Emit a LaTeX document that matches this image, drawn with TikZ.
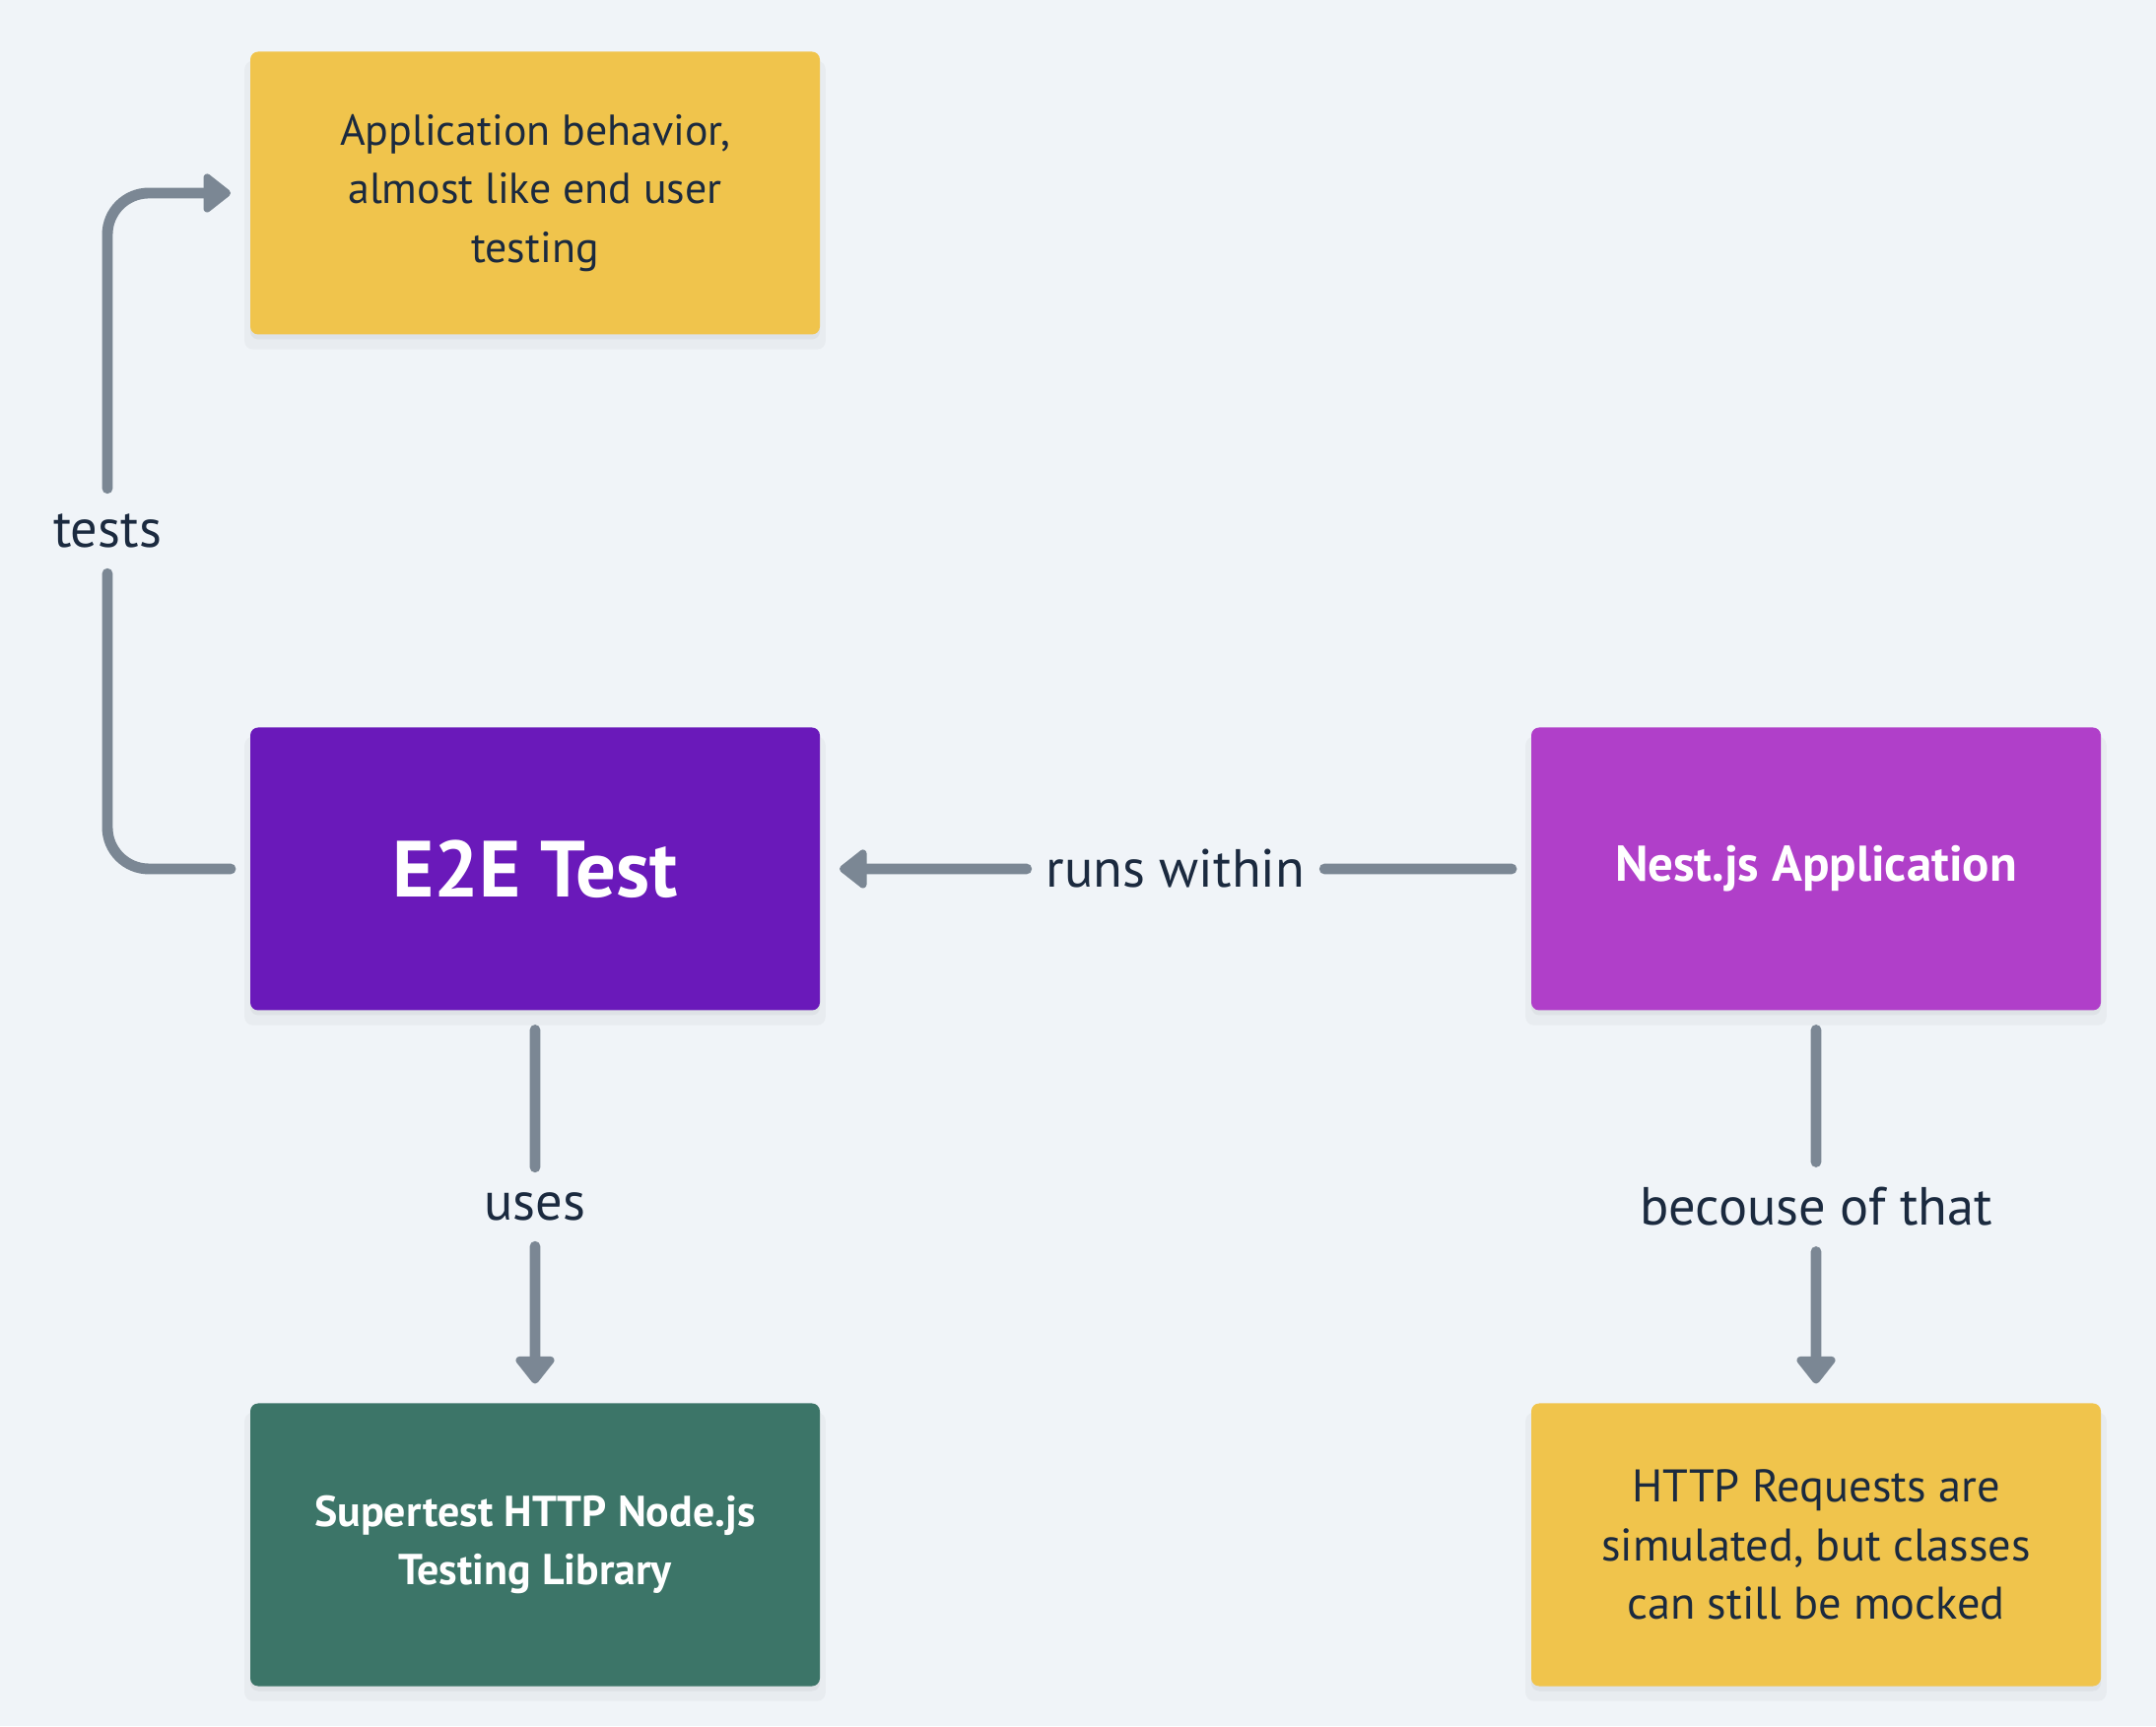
\documentclass[tikz,border=0pt]{standalone}
\usepackage{fontspec}
\setmainfont{PT Sans}
\usetikzlibrary{arrows.meta,%
                positioning,%
                calc,%
                shadows}

\definecolor{paper}{HTML}{F0F4F8}
\definecolor{ochre}{HTML}{F0C44C}
\definecolor{violet}{HTML}{6A19BA}
\definecolor{orchid}{HTML}{B03FC9}
\definecolor{pine}{HTML}{3C7568}
\definecolor{slate}{HTML}{7B8794}
\definecolor{ink}{HTML}{1B2A3F}

\begin{document}
\begin{tikzpicture}
  \tikzstyle{every node} = [inner sep = 0pt,
			    outer sep = 0pt]
\tikzset{box/.style={minimum width = 5.78cm,
                     minimum height = 2.87cm,
                     rounded corners = 0.08cm,
                     align = center,
                     drop shadow = {shadow xshift = 0pt, shadow yshift = -0.12cm,
                                    shadow scale = 1.02, opacity = 0.03, fill = black},
                     drop shadow = {shadow xshift = 0pt, shadow yshift = -0.05cm,
                                    opacity = 0.04, fill = black}},
         note/.style={box, fill = ochre, text = ink,
                      font = \fontsize{12.5}{17}\selectfont},
         tag/.style={text = ink, inner ysep = 0.06cm,
                     font = \fontsize{15.5}{17}\selectfont},
         link/.style={draw = slate, line width = 3.1pt, line cap = round,
                      rounded corners = 0.42cm,
                      shorten < = 0.2cm, shorten > = 0.2cm},
         tip/.style={-{Triangle[width = 0.45cm, length = 0.3cm, round]}}}
\useasboundingbox[fill = paper] (0,0) rectangle (21.88,17.52);

% boxes
\node[box, fill = violet, text = white,
      font = \fontsize{23}{26}\bfseries] (e2e) at (5.43,8.70) {E2E Test};
\node[note, above = 3.99cm of e2e] (behavior) {Application behavior,\\almost like end user\\testing};
\node[box, fill = orchid, text = white, right = 7.22cm of e2e,
      font = \fontsize{14.5}{17}\bfseries] (nest) {Nest.js Application};
\node[box, fill = pine, text = white, below = 3.99cm of e2e,
      font = \fontsize{12.5}{17}\bfseries] (supertest) {Supertest HTTP Node.js\\Testing Library};
\node[note, below = 3.99cm of nest,
      font = \fontsize{13.2}{17}\selectfont] (mocked) {HTTP Requests are\\simulated, but classes\\can still be mocked};

% labels
\node[tag] (tests) at ($(e2e.west)!0.5!(behavior.west) + (-1.45,0)$) {tests};
\node[tag] (runs) at ($(e2e.east)!0.5!(nest.west)$) {runs within};
\node[tag] (uses) at ($(e2e.south)!0.5!(supertest.north)$) {uses};
\node[tag] (becouse) at ($(nest.south)!0.5!(mocked.north)$) {becouse of that};

% connectors
\draw[link] (e2e.west) -| (tests.south);
\draw[link, tip] (tests.north) |- (behavior.west);
\draw[link] (nest.west) -- (runs.east);
\draw[link, tip] (runs.west) -- (e2e.east);
\draw[link] (e2e.south) -- (uses.north);
\draw[link, tip] (uses.south) -- (supertest.north);
\draw[link] (nest.south) -- (becouse.north);
\draw[link, tip] (becouse.south) -- (mocked.north);

\end{tikzpicture}
\end{document}
